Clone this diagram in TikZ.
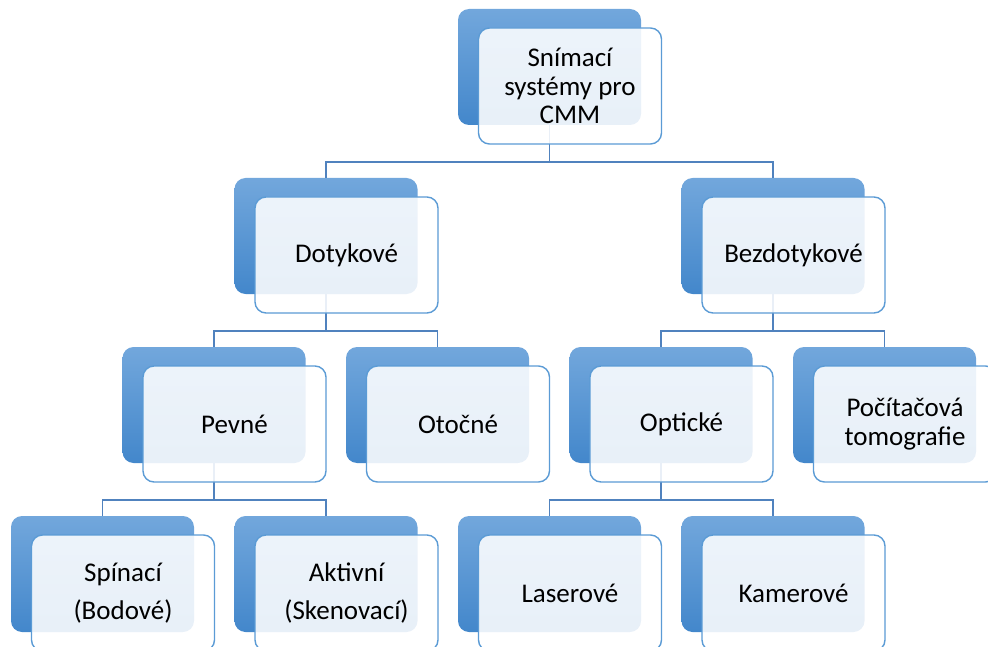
\documentclass[tikz,border=0pt]{standalone}
\usepackage{fontspec}
\setmainfont{Carlito}

\definecolor{okraj}{RGB}{91,155,213}
\definecolor{modrasv}{RGB}{114,167,220}
\definecolor{modratm}{RGB}{67,135,203}
\definecolor{cara}{RGB}{80,130,190}

\tikzset{
  zadni/.style={rectangle, rounded corners=11pt, minimum width=183pt, minimum height=116pt,
    top color=modrasv, bottom color=modratm, draw=none, inner sep=0pt},
  predni/.style={rectangle, rounded corners=11pt, minimum width=183pt, minimum height=116pt,
    draw=okraj, line width=1.4pt, fill=white, fill opacity=0.88, text opacity=1,
    align=center, inner sep=0pt, xshift=20.5pt, yshift=-19pt,
    font=\fontsize{27}{28.5}\selectfont},
  spoj/.style={draw=cara, line width=1.8pt},
}

\begin{document}
\begin{tikzpicture}[x=1pt,y=-1pt]
	\useasboundingbox (0,0) rectangle (988,647);
	\clip (0,0) rectangle (988,647);
	\def\pod{36.5}

	% zadni bloky
	\node[zadni] (koren) at (549.5,67) {};
	\node[zadni] (dotyk) at (326,236) {};
	\node[zadni] (bezdotyk) at (773,236) {};
	\node[zadni] (pevne) at (214,405) {};
	\node[zadni] (otocne) at (437.5,405) {};
	\node[zadni] (opticke) at (661,405) {};
	\node[zadni] (ct) at (884.5,405) {};
	\node[zadni] (spinaci) at (102.5,574) {};
	\node[zadni] (aktivni) at (326,574) {};
	\node[zadni] (laser) at (549.5,574) {};
	\node[zadni] (kamera) at (773,574) {};

	% spoje
	\draw[spoj] (koren.south) -- ++(0,\pod) -| (dotyk.north);
	\draw[spoj] (koren.south) -- ++(0,\pod) -| (bezdotyk.north);
	\draw[spoj] (dotyk.south) -- ++(0,\pod) -| (pevne.north);
	\draw[spoj] (dotyk.south) -- ++(0,\pod) -| (otocne.north);
	\draw[spoj] (bezdotyk.south) -- ++(0,\pod) -| (opticke.north);
	\draw[spoj] (bezdotyk.south) -- ++(0,\pod) -| (ct.north);
	\draw[spoj] (pevne.south) -- ++(0,\pod) -| (spinaci.north);
	\draw[spoj] (pevne.south) -- ++(0,\pod) -| (aktivni.north);
	\draw[spoj] (opticke.south) -- ++(0,\pod) -| (laser.north);
	\draw[spoj] (opticke.south) -- ++(0,\pod) -| (kamera.north);

	% predni bloky s textem
	\node[predni] (koren-t) at (koren) {Snímací\\systémy pro\\CMM};
	\node[predni] (dotyk-t) at (dotyk) {Dotykové};
	\node[predni] (bezdotyk-t) at (bezdotyk) {Bezdotykové};
	\node[predni] (pevne-t) at (pevne) {Pevné};
	\node[predni] (otocne-t) at (otocne) {Otočné};
	\node[predni] (opticke-t) at (opticke) {Optické};
	\node[predni] (ct-t) at (ct) {Počítačová\\tomografie};
	\node[predni] (spinaci-t) at (spinaci) {Spínací\\[10pt](Bodové)};
	\node[predni] (aktivni-t) at (aktivni) {Aktivní\\[10pt](Skenovací)};
	\node[predni] (laser-t) at (laser) {Laserové};
	\node[predni] (kamera-t) at (kamera) {Kamerové};
\end{tikzpicture}
\end{document}
